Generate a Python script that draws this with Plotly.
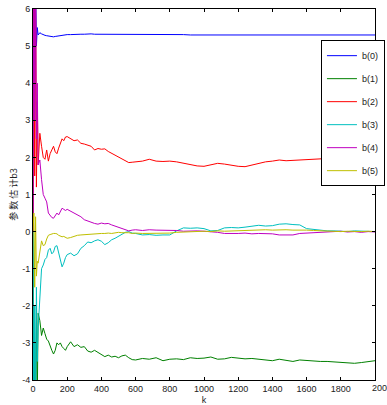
import plotly.graph_objects as go

K = [0, 5, 10, 15, 20, 25, 30,
     40, 50, 60, 70, 80, 90, 100, 110, 120, 130, 140, 150, 160, 170, 180, 190, 200,
     220, 240, 260, 280, 300, 320, 340, 360, 380, 400, 420, 440, 460, 480, 500, 520, 540, 560, 580, 600,
     640, 680, 720, 760, 800, 840, 880, 920, 960, 1000, 1040, 1080, 1120, 1160, 1200, 1240, 1280, 1320,
     1360, 1400, 1440, 1480, 1520, 1560, 1600, 1640, 1680, 1720, 1760, 1800, 1840, 1880, 1920, 1960, 2000]

b0 = [0, 8, 4.5, 6.8, 5.0, 5.5, 5.3,
      5.36, 5.33, 5.3, 5.29, 5.28, 5.27, 5.26, 5.25, 5.25, 5.26, 5.27, 5.28, 5.29, 5.3, 5.3, 5.31, 5.31,
      5.31, 5.32, 5.32, 5.32, 5.32, 5.33, 5.33, 5.32, 5.32, 5.33, 5.33, 5.32, 5.32, 5.32, 5.32, 5.32, 5.32, 5.32, 5.31, 5.31,
      5.31, 5.31, 5.31, 5.31, 5.31, 5.31, 5.31, 5.3, 5.3, 5.3, 5.3, 5.3, 5.3, 5.3, 5.3, 5.3, 5.3, 5.3,
      5.3, 5.3, 5.3, 5.3, 5.3, 5.31, 5.31, 5.31, 5.31, 5.31, 5.3, 5.3, 5.3, 5.3, 5.3, 5.3, 5.3]

b1 = [0, -6, -3, -5, -2, -4.5, -2.2,
      -2.4, -2.8, -2.6, -2.75, -2.9, -2.95, -3.1, -3.2, -3.3, -3.2, -3.0, -3.05, -3.0, -3.1, -3.15, -3.2, -3.1,
      -2.97, -3.1, -3.05, -3.12, -3.1, -3.22, -3.25, -3.2, -3.26, -3.3, -3.37, -3.33, -3.38, -3.36, -3.4, -3.35, -3.33, -3.4, -3.45, -3.46,
      -3.42, -3.44, -3.4, -3.48, -3.44, -3.43, -3.45, -3.4, -3.42, -3.41, -3.38, -3.44, -3.43, -3.39, -3.42, -3.43, -3.42, -3.44,
      -3.45, -3.48, -3.44, -3.47, -3.5, -3.46, -3.48, -3.5, -3.5, -3.5, -3.51, -3.52, -3.55, -3.55, -3.53, -3.5, -3.48]

b2 = [0, 7, 1.5, 6.5, 1.2, 3.5, 1.8,
      2.65, 2.3, 2.0, 1.95, 2.2, 1.9, 2.1, 2.2, 2.3, 2.15, 2.1, 2.25, 2.4, 2.5, 2.45, 2.55, 2.56,
      2.5, 2.45, 2.47, 2.38, 2.36, 2.33, 2.3, 2.2, 2.24, 2.22, 2.23, 2.16, 2.11, 2.06, 2.0, 1.95, 1.9, 1.86, 1.87, 1.88,
      1.9, 1.95, 1.9, 1.89, 1.9, 1.88, 1.84, 1.82, 1.77, 1.76, 1.8, 1.84, 1.82, 1.78, 1.76, 1.75, 1.8, 1.84,
      1.88, 1.9, 1.93, 1.91, 1.92, 1.93, 1.92, 1.94, 1.96, 1.95, 1.98, 2.0, 2.02, 2.04, 2.06, 2.03, 2.02]

b3 = [0, -6, -2, -5, -1.5, -3.5, -2.6,
      -1.6, -1.0, -0.9, -0.75, -0.7, -0.5, -0.45, -0.6, -0.55, -0.4, -0.38, -0.6, -0.8, -0.95, -0.85, -0.7, -0.62,
      -0.58, -0.65, -0.6, -0.45, -0.38, -0.28, -0.3, -0.25, -0.22, -0.26, -0.35, -0.3, -0.22, -0.18, -0.12, -0.06, -0.02, 0.0, -0.04, -0.05,
      -0.09, -0.08, -0.1, -0.09, -0.09, 0.02, 0.1, 0.09, 0.1, 0.08, 0.02, 0.03, 0.1, 0.11, 0.1, 0.12, 0.15, 0.17,
      0.15, 0.16, 0.2, 0.21, 0.19, 0.18, 0.08, 0.06, 0.03, 0.02, 0.02, 0.01, 0.0, 0.02, 0.01, 0.0, 0.0]

b4 = [0, 8, 3, 7, 2.5, 4, 1.8,
      1.93, 1.4, 1.0, 0.9, 0.8, 0.5, 0.42, 0.38, 0.36, 0.45, 0.5, 0.45, 0.55, 0.63, 0.6, 0.57, 0.6,
      0.55, 0.5, 0.47, 0.4, 0.32, 0.28, 0.25, 0.22, 0.2, 0.23, 0.21, 0.22, 0.18, 0.15, 0.12, 0.08, 0.04, 0.02, 0.04, 0.05,
      0.03, 0.05, 0.04, 0.04, 0.02, 0.03, 0.01, 0.02, 0.02, 0.01, 0.0, -0.02, -0.05, -0.06, -0.05, -0.04, -0.06, -0.05,
      -0.05, -0.06, -0.09, -0.1, -0.09, -0.05, -0.04, -0.03, -0.02, -0.02, 0.0, 0.01, -0.01, 0.0, -0.02, 0.0, -0.01]

b5 = [0, 0.5, -1.5, 0.4, -1.2, -0.8, -0.85,
      -0.5, -0.25, -0.38, -0.35, -0.2, -0.1, -0.08, -0.06, -0.05, -0.05, -0.06, -0.1, -0.12, -0.14, -0.13, -0.16, -0.18,
      -0.16, -0.12, -0.1, -0.09, -0.08, -0.07, -0.06, -0.07, -0.06, -0.05, -0.05, -0.04, -0.05, -0.03, -0.02, -0.03, -0.02, -0.03, -0.05, -0.04,
      -0.05, -0.05, -0.06, -0.05, -0.04, -0.02, -0.01, 0.0, 0.0, 0.01, 0.0, 0.02, 0.01, 0.02, 0.03, 0.03, 0.04, 0.04,
      0.05, 0.04, 0.05, 0.05, 0.04, 0.05, 0.04, 0.03, 0.02, 0.01, 0.0, 0.0, 0.01, 0.0, 0.0, 0.01, 0.0]

names = ["b(0)", "b(1)", "b(2)", "b(3)", "b(4)", "b(5)"]
series = [b0, b1, b2, b3, b4, b5]
colors = ["#0000ff", "#008000", "#ff0000", "#00bfbf", "#bf00bf", "#bfbf00"]

x_ticks = list(range(0, 2001, 200))
y_ticks = list(range(-4, 7))

fig = go.Figure()
for i, (nm, ys, c) in enumerate(zip(names, series, colors)):
    fig.add_trace(go.Scatter(x=K, y=ys, mode="lines", name=nm, legendgroup=nm,
                             line=dict(color=c, width=1)))

font = dict(family="Liberation Sans, Arial, sans-serif", size=9, color="#222")
fig.update_layout(
    width=387, height=405,
    margin=dict(l=33, r=2, t=9, b=25),
    paper_bgcolor="white", plot_bgcolor="white",
    font=font,
    showlegend=True,
    legend=dict(x=0.842, y=0.916, xanchor="left", yanchor="top",
                bgcolor="white", bordercolor="black", borderwidth=1,
                font=dict(family="Liberation Sans, Arial, sans-serif", size=9, color="#222"),
                traceorder="grouped", tracegroupgap=4, itemwidth=30),
)
fig.update_xaxes(range=[0, 2000], tickvals=x_ticks[:-1], ticktext=[str(v) for v in x_ticks[:-1]],
                 showgrid=False, zeroline=False, showline=True, linecolor="black", linewidth=1,
                 mirror="ticks", ticks="inside", ticklen=3, tickcolor="black",
                 title=dict(text="k", standoff=4, font=font))
fig.update_yaxes(range=[-4, 6], tickvals=y_ticks, ticktext=[str(v) for v in y_ticks],
                 showgrid=False, zeroline=False, showline=True, linecolor="black", linewidth=1,
                 mirror="ticks", ticks="inside", ticklen=3, tickcolor="black",
                 title=dict(text="参 数 估 计b3", standoff=3,
                            font=dict(family="Noto Sans CJK SC, sans-serif", size=9, color="#222")))

# last x tick label, partly cut off by the page edge as in the reference
fig.add_annotation(x=x_ticks[-1], y=0, xref="x", yref="paper", text=str(x_ticks[-1]),
                   showarrow=False, xanchor="center", yanchor="top", yshift=-1, xshift=7,
                   font=font)

fig.write_html("out.html")
